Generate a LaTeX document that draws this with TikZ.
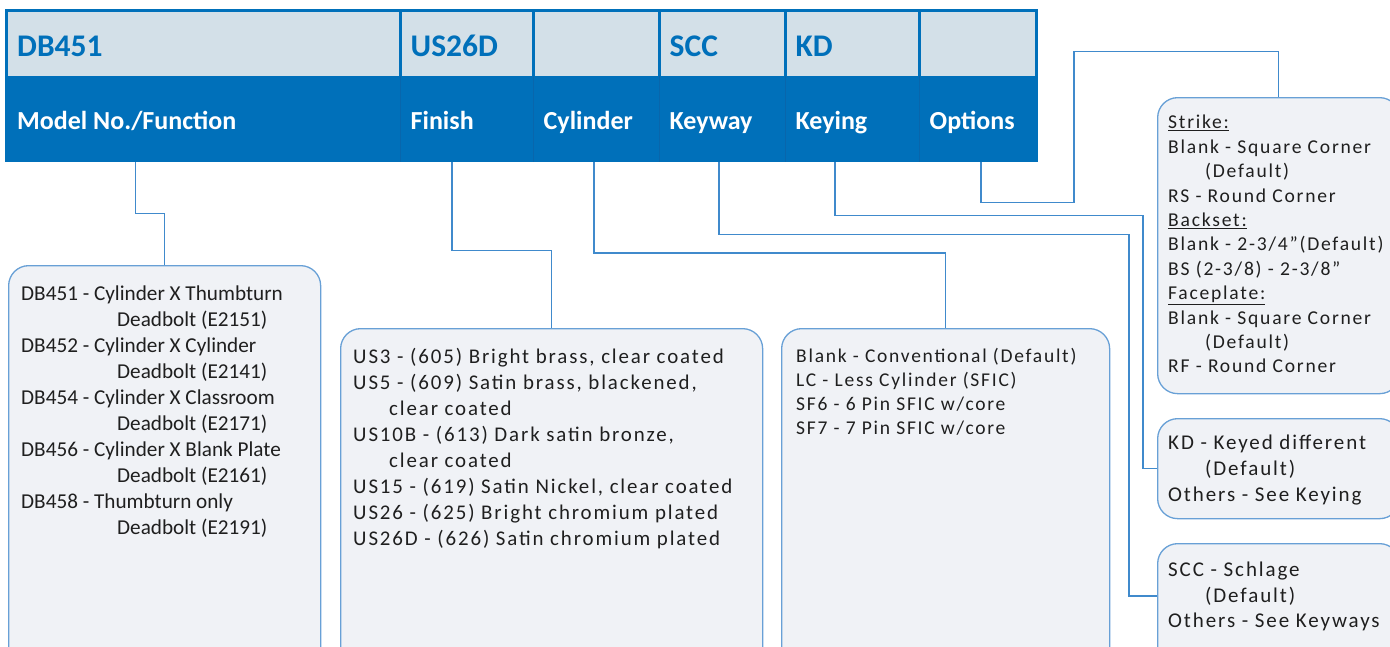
\documentclass[tikz,border=0pt]{standalone}
\usepackage{fontspec}
\setmainfont{Carlito}
\newfontfamily\boxfont[LetterSpace=9]{Carlito}

\definecolor{barblue}{RGB}{0,112,186}
\definecolor{cellgray}{RGB}{211,224,232}
\definecolor{sepblue}{RGB}{8,102,172}
\definecolor{boxfill}{RGB}{240,242,246}
\definecolor{boxline}{RGB}{104,160,214}
\definecolor{linkblue}{RGB}{64,138,204}

\begin{document}
\begin{tikzpicture}[x=1pt,y=-1pt,
  code/.style={anchor=north west, fill=cellgray, text=barblue, inner xsep=9pt, inner ysep=0pt,
    minimum height=64pt, text height=24pt, text depth=0pt, align=flush left,
    font=\fontsize{31.5}{31.5}\selectfont\bfseries},
  field/.style={anchor=north west, text=white, inner xsep=9pt, inner ysep=0pt,
    minimum height=85.5pt, text height=19.5pt, text depth=0pt, align=flush left,
    font=\fontsize{26}{26}\selectfont\bfseries},
  sepline/.style={draw=sepblue, line width=1pt},
  box/.style={anchor=north west, draw=boxline, fill=boxfill, line width=1.3pt, rounded corners=20pt},
  note/.style={anchor=north west, inner sep=0pt, align=left, text=black!88},
  link/.style={draw=linkblue, line width=1.6pt}]
\useasboundingbox (0,0) rectangle (1390,646);
\clip (0,0) rectangle (1390,646);

% header bar
\fill[barblue] (5,9) rectangle (1038,161.5);
\node[code, text width=372.5pt] (dbcode) at (8,12) {DB451};
\node[code, text width=112pt] (fincode) at (401.5,12) {US26D};
\node[code, text width=105pt] (cylcode) at (534.5,12) {};
\node[code, text width=105pt] (waycode) at (660.5,12) {SCC};
\node[code, text width=113pt] (keycode) at (786.5,12) {KD};
\node[code, text width=96.5pt] (optcode) at (920.5,12) {};

\node[field, text width=372.5pt] (model) at (dbcode.south west) {Model No./Function};
\node[field, text width=112pt] (finish) at (fincode.south west) {Finish};
\node[field, text width=105pt] (cyl) at (cylcode.south west) {Cylinder};
\node[field, text width=105pt] (keyway) at (waycode.south west) {Keyway};
\node[field, text width=113pt] (keying) at (keycode.south west) {Keying};
\node[field, text width=96.5pt] (options) at (optcode.south west) {Options};
\draw[sepline] ([xshift=-1.5pt]finish.north west) -- ([xshift=-1.5pt]finish.south west);
\draw[sepline] ([xshift=-1.5pt]cyl.north west) -- ([xshift=-1.5pt]cyl.south west);
\draw[sepline] ([xshift=-1.5pt]keyway.north west) -- ([xshift=-1.5pt]keyway.south west);
\draw[sepline] ([xshift=-1.5pt]keying.north west) -- ([xshift=-1.5pt]keying.south west);
\draw[sepline] ([xshift=-1.5pt]options.north west) -- ([xshift=-1.5pt]options.south west);

% boxes
\node[box, minimum width=312pt, minimum height=440pt] (modelbox) at (8,265) {};
\node[box, minimum width=422pt, minimum height=380pt] (finishbox) at (340,328) {};
\node[box, minimum width=328pt, minimum height=380pt] (cylbox) at (781,328) {};
\node[box, minimum width=242pt, minimum height=296pt] (optbox) at (1157,97) {};
\node[box, minimum width=242pt, minimum height=100pt] (keyingbox) at (1157,418) {};
\node[box, minimum width=242pt, minimum height=140pt] (keywaybox) at (1157,543) {};

\node[note, font=\fontsize{21.2}{26}\selectfont] (modeltext) at ([xshift=13pt,yshift=-21pt]modelbox.north west)
  {DB451 - Cylinder X Thumbturn\\
   \hspace*{96pt}Deadbolt (E2151)\\
   DB452 - Cylinder X Cylinder\\
   \hspace*{96pt}Deadbolt (E2141)\\
   DB454 - Cylinder X Classroom\\
   \hspace*{96pt}Deadbolt (E2171)\\
   DB456 - Cylinder X Blank Plate\\
   \hspace*{96pt}Deadbolt (E2161)\\
   DB458 - Thumbturn only\\
   \hspace*{96pt}Deadbolt (E2191)};
\node[note, font=\boxfont\fontsize{20.9}{26}\selectfont] (finishtext) at ([xshift=13pt,yshift=-20pt]finishbox.north west)
  {US3 - (605) Bright brass, clear coated\\
   US5 - (609) Satin brass, blackened,\\
   \hspace*{36pt}clear coated\\
   US10B - (613) Dark satin bronze,\\
   \hspace*{36pt}clear coated\\
   US15 - (619) Satin Nickel, clear coated\\
   US26 - (625) Bright chromium plated\\
   US26D - (626) Satin chromium plated};
\node[note, font=\boxfont\fontsize{19.5}{24}\selectfont] (cyltext) at ([xshift=15pt,yshift=-20pt]cylbox.north west)
  {Blank - Conventional (Default)\\
   LC - Less Cylinder (SFIC)\\
   SF6 - 6 Pin SFIC w/core\\
   SF7 - 7 Pin SFIC w/core};
\node[note, font=\boxfont\fontsize{19.6}{24.4}\selectfont] (opttext) at ([xshift=11pt,yshift=-18pt]optbox.north west)
  {\underline{Strike:}\\
   Blank - Square Corner\\
   \hspace*{37pt}(Default)\\
   RS - Round Corner\\
   \underline{Backset:}\\
   Blank - 2-3/4”(Default)\\
   BS (2-3/8) - 2-3/8”\\
   \underline{Faceplate:}\\
   Blank - Square Corner\\
   \hspace*{37pt}(Default)\\
   RF - Round Corner};
\node[note, font=\boxfont\fontsize{21}{26}\selectfont] (keyingtext) at ([xshift=11pt,yshift=-17pt]keyingbox.north west)
  {KD - Keyed different\\
   \hspace*{37pt}(Default)\\
   Others - See Keying};
\node[note, font=\boxfont\fontsize{21}{25.5}\selectfont] (keywaytext) at ([xshift=11pt,yshift=-19pt]keywaybox.north west)
  {SCC - Schlage\\
   \hspace*{37pt}(Default)\\
   Others - See Keyways};

% connectors
\draw[link] ([xshift=-68pt]model.south) -- ++(0,51) -| (modelbox.north);
\draw[link] ([xshift=-14.5pt]finish.south) -- ++(0,88) -| (finishbox.north);
\draw[link] ([xshift=-2.5pt]cyl.south) -- ++(0,90.5) -| (cylbox.north);
\draw[link] ([xshift=-3pt]keyway.south) -- ++(0,72) -| ([xshift=-28pt,yshift=-53pt]keywaybox.north west)
  -- ([yshift=-53pt]keywaybox.north west);
\draw[link] ([xshift=-17pt]keying.south) -- ++(0,53) -| ([xshift=-14pt]keyingbox.west) -- (keyingbox.west);
\draw[link] ([xshift=3pt]options.south) -- ++(0,40) -- ++(93,0) -- ++(0,-151) -| (optbox.north);
\end{tikzpicture}
\end{document}
